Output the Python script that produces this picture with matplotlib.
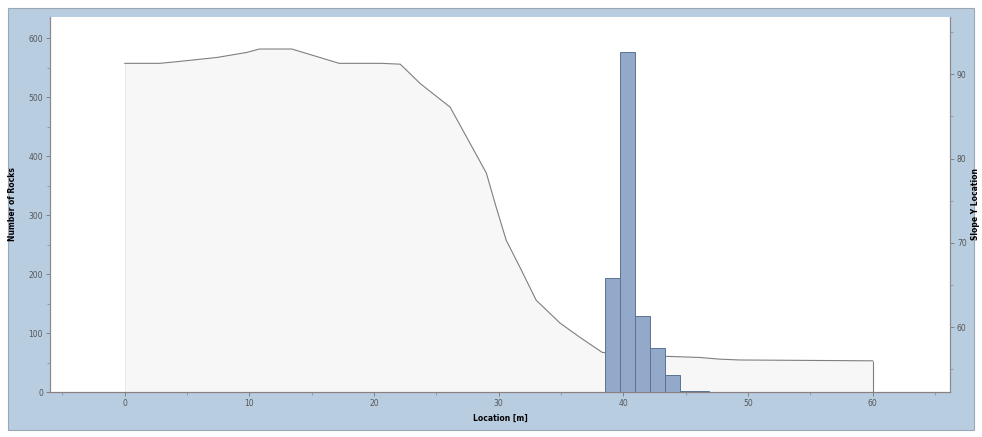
import matplotlib
matplotlib.use("Agg")
import matplotlib.pyplot as plt
from matplotlib.patches import Rectangle
from matplotlib.ticker import MultipleLocator
import numpy as np

# ---- data ----
bin_left = [38.5, 39.7, 40.9, 42.1, 43.3, 44.5, 45.7]
bin_width = 1.2
rock_counts = [193, 576, 129, 75, 29, 2, 1]

slope_x = [0, 2.8, 4.2, 7.4, 9.8, 10.8, 13.4, 17.2, 20.6, 22.1, 23.7, 26.1, 27.7,
           29.0, 29.8, 30.6, 31.7, 33.0, 34.9, 36.5, 38.3, 40.0, 41.5, 43.1,
           46.1, 47.7, 49.3, 60.0]
slope_y = [91.3, 91.3, 91.5, 92.0, 92.6, 93.0, 93.0, 91.3, 91.3, 91.2, 88.9, 86.1, 81.8,
           78.3, 74.2, 70.3, 67.1, 63.2, 60.5, 58.8, 57.0, 56.8, 56.6, 56.55,
           56.4, 56.2, 56.1, 56.0]

x_label = "Location [m]"
y_label = "Number of Rocks"
y2_label = "Slope Y Location"

# ---- figure ----
W, H = 982, 437
fig = plt.figure(figsize=(W / 100, H / 100), dpi=100, facecolor="white")
panel = Rectangle((8 / W, 1 - 430 / H), (974 - 8) / W, (430 - 8) / H,
                  transform=fig.transFigure, facecolor="#b9cde1",
                  edgecolor="#9aa7b4", linewidth=0.8, zorder=-10)
fig.patches.append(panel)

ax_pos = [50 / W, 1 - 392 / H, 900 / W, 375 / H]
ax = fig.add_axes(ax_pos)
ax2 = ax.twinx()
ax2.set_zorder(1)
ax.set_zorder(2)
ax.patch.set_visible(False)
ax2.patch.set_visible(True)
ax2.patch.set_facecolor("white")

y2min, y2max = 52.3, 96.8
ax2.set_ylim(y2min, y2max)
ax2.fill_between(slope_x, y2min, slope_y, color="#f7f7f7", linewidth=0, zorder=1)
ax2.plot(slope_x, slope_y, color="#7f7f7f", linewidth=0.8, zorder=3)
ax2.vlines(slope_x[-1], y2min, slope_y[-1], color="#7f7f7f", linewidth=0.8, zorder=3)
ax2.vlines(slope_x[0], y2min, slope_y[0], color="#e6e6e6", linewidth=0.6, zorder=2)

ax.bar(bin_left, rock_counts, width=bin_width, align="edge",
       color="#92a9ca", edgecolor="#5d7393", linewidth=0.7, zorder=3)

ax.set_xlim(-6.0, 66.2)
ax.set_ylim(0, 635.6)

ax.xaxis.set_major_locator(MultipleLocator(10))
ax.xaxis.set_minor_locator(MultipleLocator(5))
ax.yaxis.set_major_locator(MultipleLocator(100))
ax.yaxis.set_minor_locator(MultipleLocator(50))
ax2.yaxis.set_major_locator(MultipleLocator(10))
ax2.yaxis.set_minor_locator(MultipleLocator(5))

tick_col = "#555555"
for a in (ax, ax2):
    for s in a.spines.values():
        s.set_color("#8a8a8a")
        s.set_linewidth(0.8)
    a.spines["top"].set_visible(False)
    a.tick_params(which="major", length=3, width=0.6, color="#777777",
                  labelsize=5.5, labelcolor=tick_col, pad=2)
    a.tick_params(which="minor", length=2, width=0.5, color="#888888")
ax.spines["bottom"].set_color("#8c7f7f")

ax.set_xlabel(x_label, fontsize=5.5, fontweight="bold", labelpad=4)
ax.set_ylabel(y_label, fontsize=5.5, fontweight="bold", labelpad=8)
ax2.set_ylabel(y2_label, fontsize=5.5, fontweight="bold", labelpad=3)

fig.savefig("out.png", dpi=100, facecolor="white")
